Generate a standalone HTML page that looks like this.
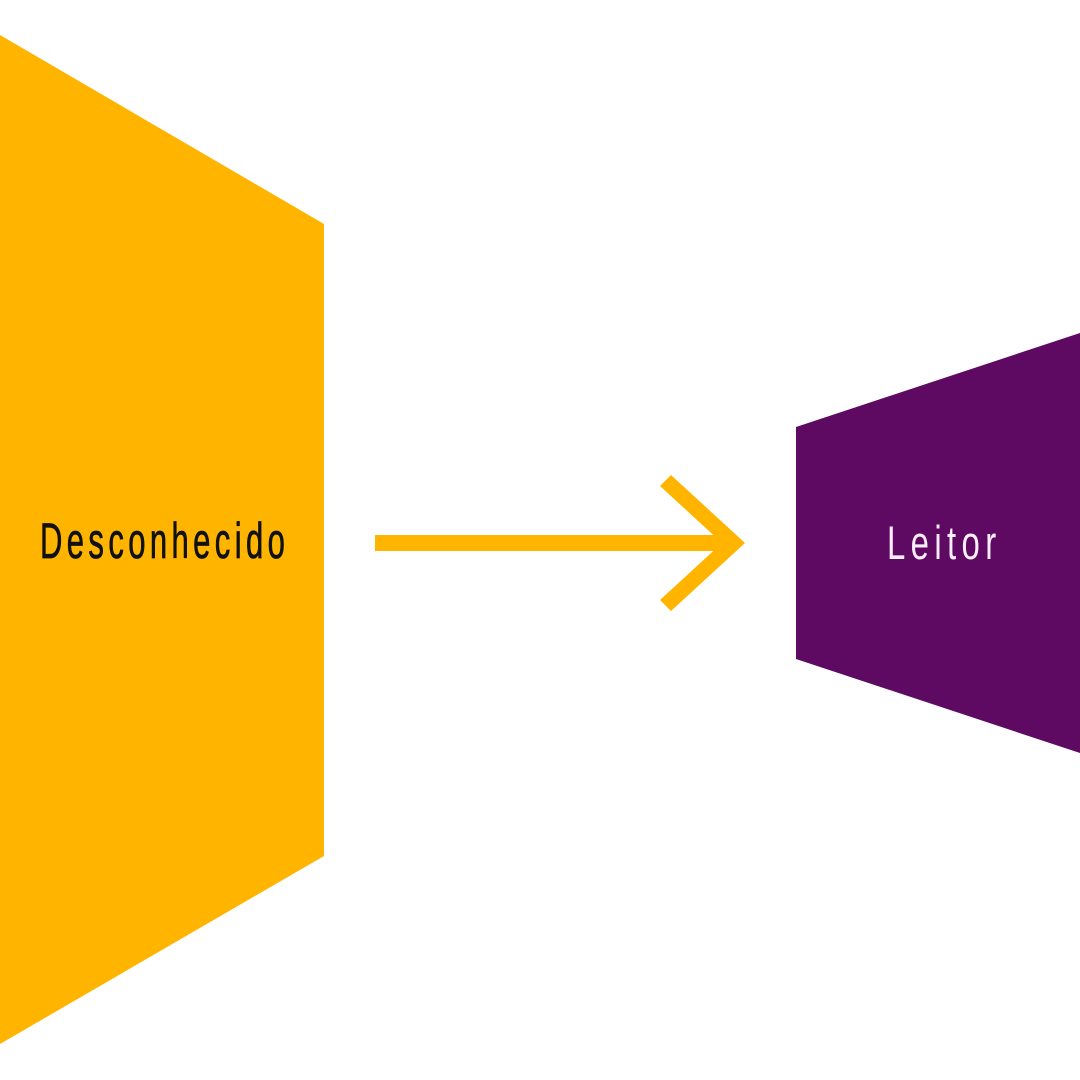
<!DOCTYPE html>
<html>
<head>
<meta charset="utf-8">
<style>
  html, body { margin: 0; padding: 0; background: #ffffff; }
  svg { display: block; }
</style>
</head>
<body>
<svg width="1080" height="1080" viewBox="0 0 1080 1080" xmlns="http://www.w3.org/2000/svg">
  <rect x="0" y="0" width="1080" height="1080" fill="#ffffff"/>
  <!-- Yellow shape -->
  <polygon points="0,35 324,224 324,856 0,1044" fill="#FFB500"/>
  <!-- Purple shape -->
  <polygon points="796,427 1080,333 1080,753 796,659" fill="#5E0A63"/>
  <!-- Arrow shaft -->
  <rect x="375" y="535" width="355" height="16" fill="#FFB500"/>
  <!-- Arrow head -->
  <polygon points="671,475 745,543 671,611 660,600 722,543 660,486" fill="#FFB500"/>
  <!-- Labels -->
  <g transform="translate(40,558) scale(0.62,1)">
    <text x="0" y="0" font-family="'Liberation Sans', sans-serif" font-size="50" fill="#111111" stroke="#111111" stroke-width="0.8" textLength="395" lengthAdjust="spacing">Desconhecido</text>
  </g>
  <g transform="translate(887,559) scale(0.7,1)">
    <text x="0" y="0" font-family="'Liberation Sans', sans-serif" font-size="47" fill="#FCEEFC" textLength="156" lengthAdjust="spacing">Leitor</text>
  </g>
</svg>
</body>
</html>
